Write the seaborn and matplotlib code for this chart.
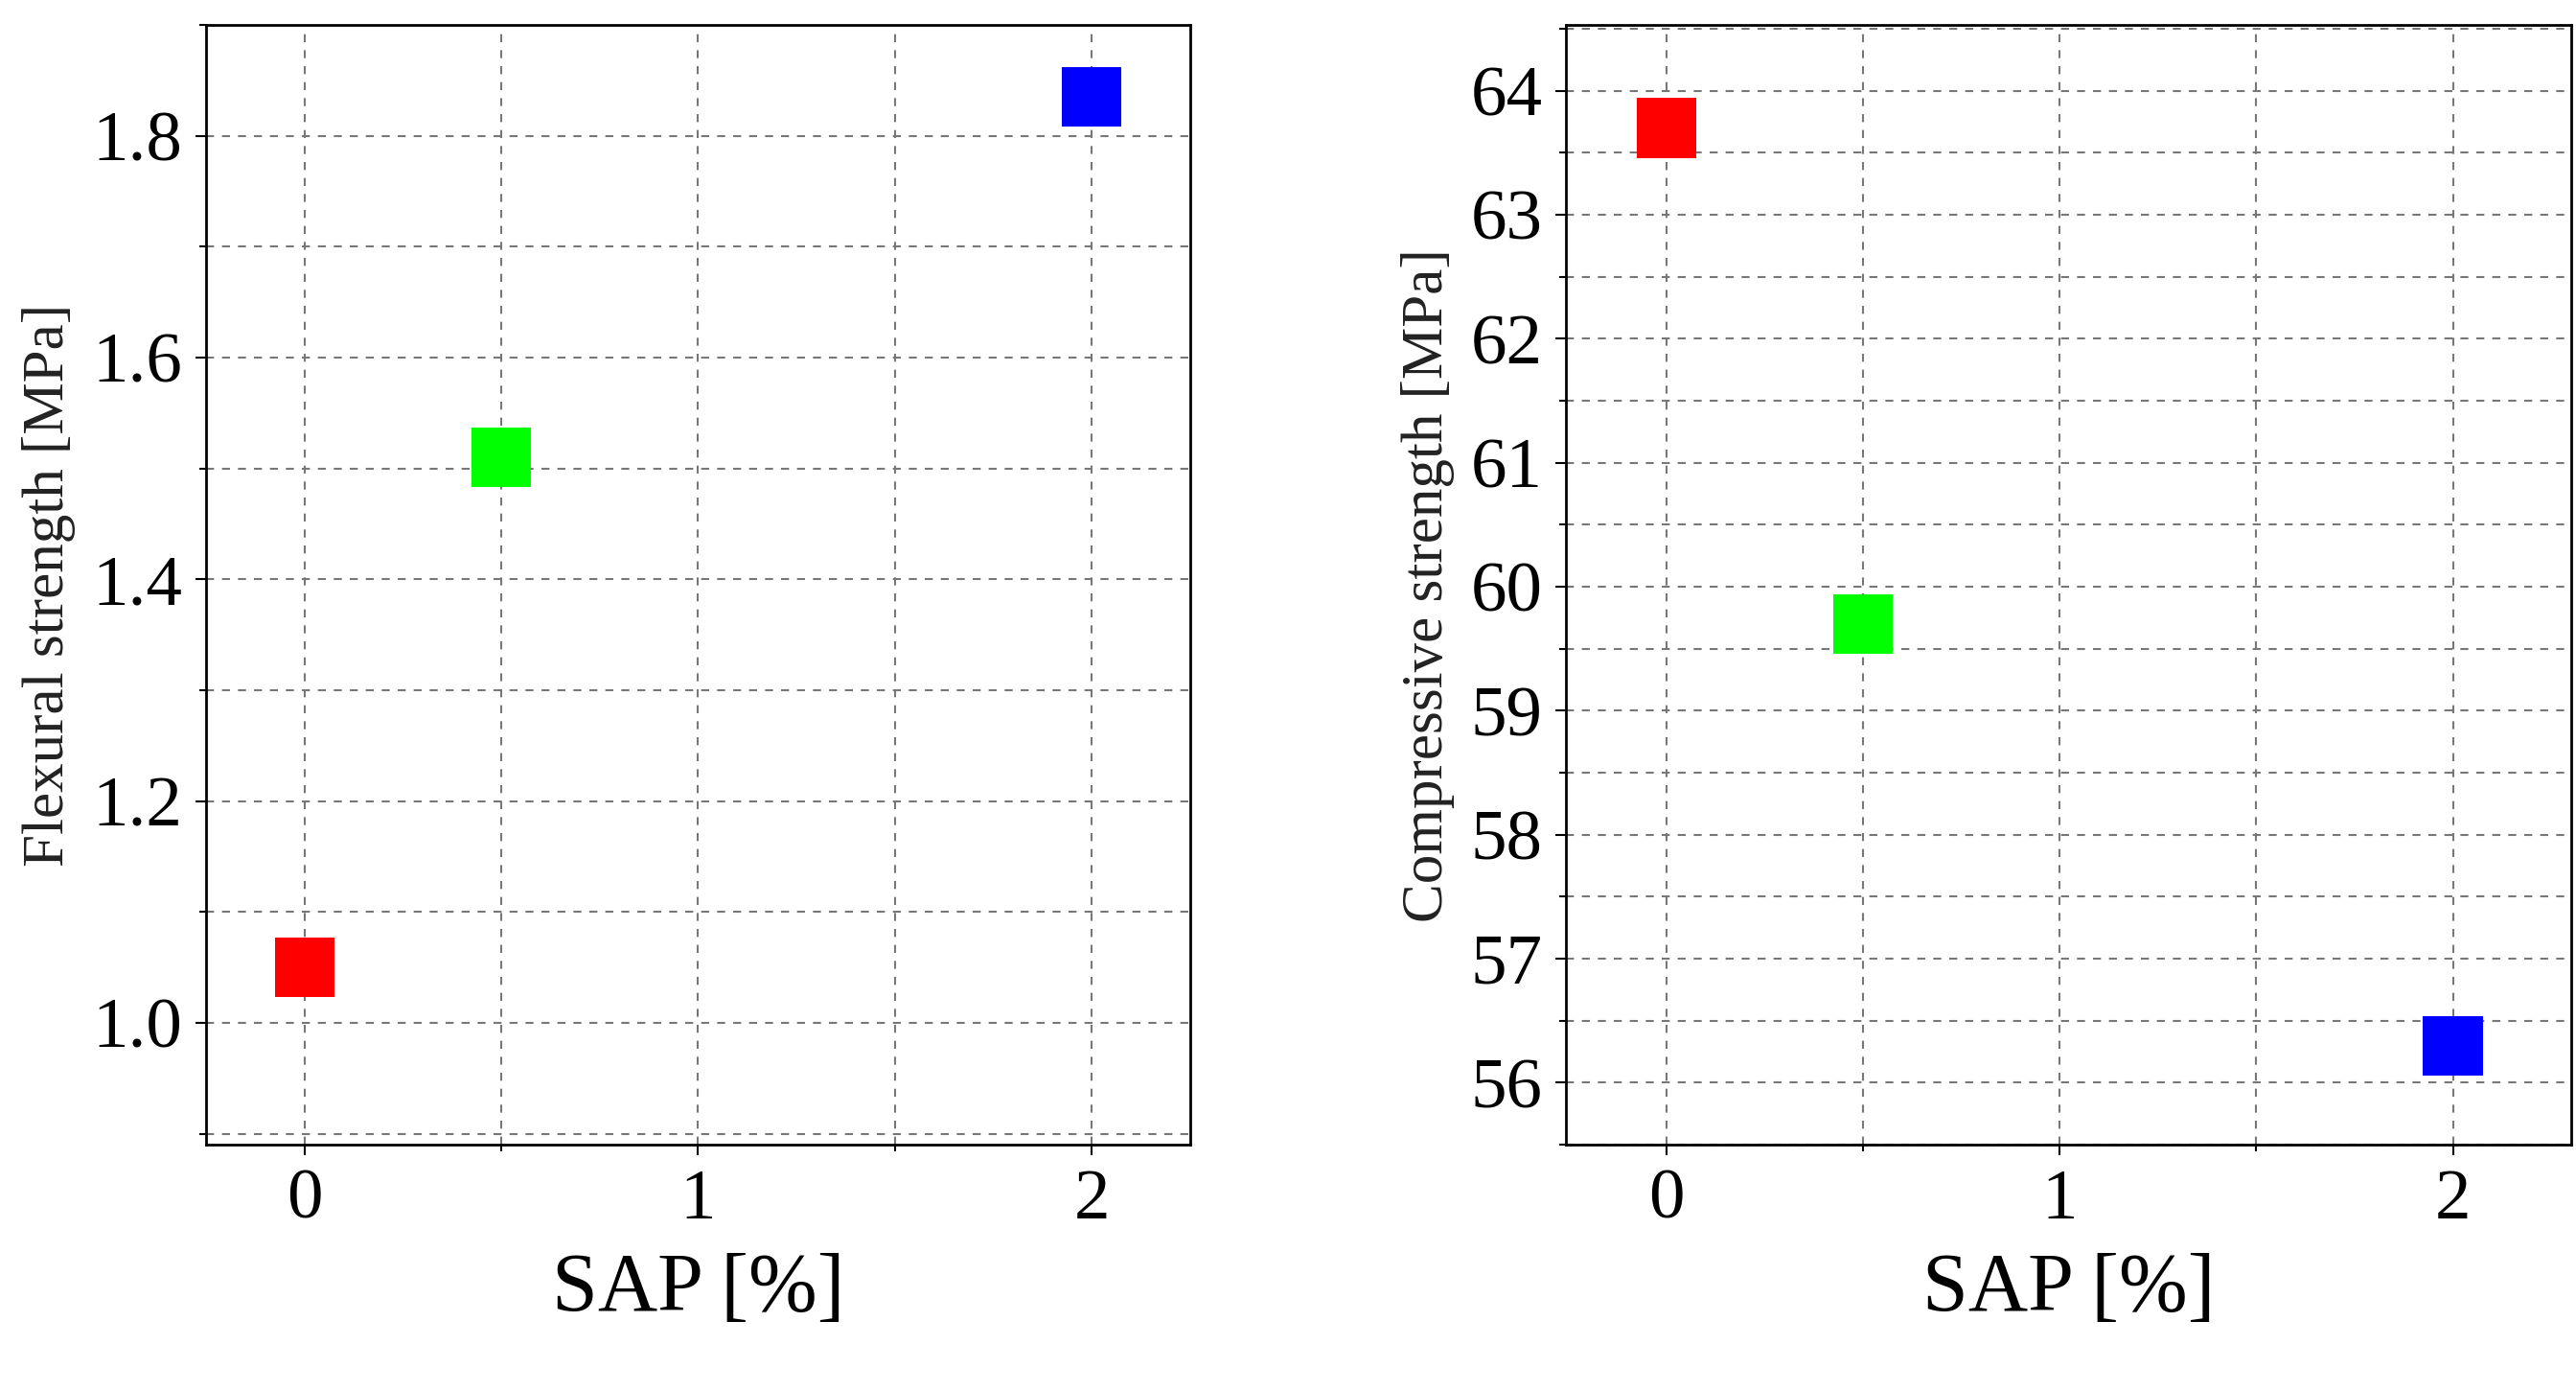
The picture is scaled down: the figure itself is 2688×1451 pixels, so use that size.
import matplotlib
matplotlib.use("Agg")
import matplotlib.pyplot as plt
import seaborn as sns
import pandas as pd
from matplotlib.ticker import MultipleLocator, FormatStrFormatter

sns.set_theme(style="white")
plt.rcParams['font.family'] = ['Liberation Serif', 'DejaVu Serif']

sap = [0, 0.5, 2]
flexural = [1.05, 1.51, 1.835]
compressive = [63.7, 59.7, 56.3]
colors = ["#ff0000", "#00ff00", "#0000ff"]

df = pd.DataFrame({"SAP": sap, "flex": flexural, "comp": compressive, "grp": ["a", "b", "c"]})

fig = plt.figure(figsize=(26.88, 14.51), dpi=100)
ax1 = fig.add_axes([0.080, 0.177, 0.382, 0.805])
ax2 = fig.add_axes([0.608, 0.177, 0.390, 0.805])

def style(ax, ylab, xlim, ylim, major, minor):
    ax.set_xlim(*xlim)
    ax.set_ylim(*ylim)
    ax.xaxis.set_major_locator(MultipleLocator(1))
    ax.xaxis.set_minor_locator(MultipleLocator(0.5))
    ax.yaxis.set_major_locator(MultipleLocator(major))
    ax.yaxis.set_minor_locator(MultipleLocator(minor))
    ax.grid(True, which="both", linestyle=(0, (4, 4)), color="#777777", linewidth=1.5)
    ax.set_axisbelow(True)
    for s in ax.spines.values():
        s.set_color("black")
        s.set_linewidth(2)
    ax.tick_params(which="both", direction="out", length=8, width=1.5, colors="black",
                   labelsize=54, left=True, bottom=True, pad=10)
    ax.tick_params(which="minor", length=5)
    ax.set_xlabel("SAP [%]", fontsize=62, color="black", labelpad=14)
    ax.set_ylabel(ylab, fontsize=44, color="#222222", labelpad=12)

sns.scatterplot(data=df, x="SAP", y="flex", hue="grp", palette=colors, marker="s",
                s=2000, linewidth=0, legend=False, ax=ax1)
sns.scatterplot(data=df, x="SAP", y="comp", hue="grp", palette=colors, marker="s",
                s=2000, linewidth=0, legend=False, ax=ax2)

style(ax1, "Flexural strength [MPa]", (-0.25, 2.25), (0.89, 1.9), 0.2, 0.1)
style(ax2, "Compressive strength [MPa]", (-0.255, 2.30), (55.5, 64.53), 1, 0.5)
ax1.yaxis.set_major_formatter(FormatStrFormatter("%.1f"))

fig.savefig("out.png", dpi=100)
